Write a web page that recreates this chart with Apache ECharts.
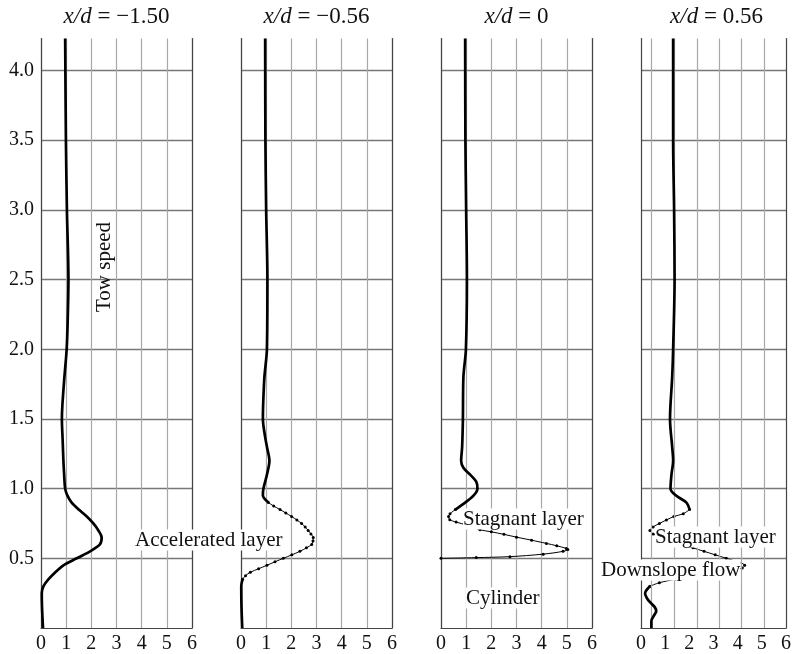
<!DOCTYPE html>
<html>
<head>
<meta charset="utf-8">
<script src="https://cdn.jsdelivr.net/npm/echarts@6/dist/echarts.min.js"></script>
<style>
  html, body { margin: 0; padding: 0; background: #fff; }
  #chart { width: 794px; height: 654px; }
</style>
</head>
<body>
<div id="chart"></div>
<script>
// panel titles (x/d values)
const panelTitles = ['\u22121.50', '\u22120.56', '0', '0.56'];

// velocity profiles, [u, z/d] pairs, top to bottom
const p1Solid = [[0.96,4.23],[0.99,3.5],[1.03,3.0],[1.09,2.5],[1.06,2.2],[1.02,2.0],[0.93,1.8],[0.85,1.6],[0.83,1.5],
  [0.86,1.35],[0.89,1.2],[0.92,1.1],[0.96,1.0],[1.05,0.95],[1.22,0.9],[1.5,0.85],[1.82,0.8],[2.08,0.75],[2.28,0.7],
  [2.41,0.65],[2.34,0.6],[1.95,0.55],[1.42,0.5],[0.89,0.45],[0.57,0.4],[0.3,0.35],[0.1,0.3],[0.03,0.25],[0.04,0.15],[0.08,0]];

const p2SolidTop = [[0.96,4.23],[0.97,3.5],[1.0,3.0],[1.05,2.5],[1.03,2.0],[0.93,1.8],[0.88,1.6],[0.87,1.5],[0.95,1.38],
  [1.03,1.3],[1.13,1.2],[1.03,1.1],[0.89,1.0],[0.87,0.95],[1.09,0.9]];
const p2Dotted = [[1.09,0.9],[1.3,0.875],[1.55,0.85],[1.78,0.825],[2.01,0.8],[2.22,0.775],[2.41,0.75],[2.55,0.725],
  [2.67,0.7],[2.78,0.675],[2.87,0.65],[2.86,0.625],[2.81,0.6],[2.6,0.575],[2.34,0.55],[2.02,0.525],[1.68,0.5],
  [1.35,0.475],[1.03,0.45],[0.7,0.425],[0.37,0.4],[0.18,0.375],[0.06,0.35]];
const p2SolidBottom = [[0.06,0.35],[0.01,0.3],[0.02,0.15],[0.05,0]];

const p3SolidTop = [[0.96,4.23],[0.97,3.5],[1.0,3.0],[1.03,2.5],[0.99,2.0],[0.89,1.8],[0.87,1.5],[0.84,1.3],[0.8,1.2],
  [0.89,1.15],[1.16,1.1],[1.4,1.05],[1.45,1.0],[1.29,0.95],[0.96,0.9],[0.57,0.85]];
const p3Dotted = [[0.57,0.85],[0.36,0.82],[0.3,0.8],[0.35,0.777],[0.6,0.76],[1.0,0.74],[1.55,0.705],[2.0,0.69],
  [2.5,0.672],[3.0,0.652],[3.6,0.63],[4.19,0.607],[4.6,0.59],[4.98,0.571],[5.04,0.564],[4.85,0.55],[4.06,0.53],
  [2.74,0.512],[1.4,0.505],[0,0.5]];

const p4SolidTop = [[1.33,4.23],[1.33,3.5],[1.37,3.0],[1.39,2.5],[1.33,2.0],[1.29,1.8],[1.2,1.5],[1.29,1.3],[1.33,1.2],
  [1.26,1.1],[1.22,1.0],[1.45,0.95],[1.88,0.9],[2.01,0.85]];
const p4Dotted = [[2.01,0.85],[1.75,0.82],[1.36,0.8],[1.05,0.775],[0.76,0.75],[0.5,0.725],[0.37,0.7],[0.5,0.675],
  [0.83,0.65],[1.25,0.625],[1.68,0.6],[2.15,0.575],[2.61,0.55],[3.07,0.525],[3.53,0.5],[3.99,0.475],[4.29,0.45],
  [4.19,0.43],[3.66,0.41],[3.0,0.4],[2.21,0.375],[1.42,0.35],[0.76,0.325],[0.37,0.3]];
const p4SolidBottom = [[0.37,0.3],[0.17,0.25],[0.3,0.2],[0.57,0.15],[0.63,0.12],[0.57,0.1],[0.43,0.05],[0.43,0]];

// the last panel's vertical grid sits off the tick marks in the source figure
const p4GridX = [0.43, 1.37, 2.31, 3.23, 4.16, 5.08];

const FONT = '"Liberation Serif", "DejaVu Serif", serif';
const lefts = [41, 241, 441, 641];
const panelW = 151;

const chart = echarts.init(document.getElementById('chart'));

function seg(i, data, dotted) {
  return {
    type: 'line',
    xAxisIndex: i,
    yAxisIndex: i,
    data: data,
    smooth: 0.3,
    showSymbol: dotted,
    symbol: 'circle',
    symbolSize: dotted ? 3 : 0,
    lineStyle: { color: '#000', width: dotted ? 1 : 2.7 },
    itemStyle: { color: '#000' },
    z: dotted ? 4 : 5,
    silent: true
  };
}

const series = [
  seg(0, p1Solid, false),
  seg(1, p2SolidTop, false), seg(1, p2Dotted, true), seg(1, p2SolidBottom, false),
  seg(2, p3SolidTop, false), seg(2, p3Dotted, true),
  seg(3, p4SolidTop, false), seg(3, p4Dotted, true), seg(3, p4SolidBottom, false),
  {
    type: 'line', xAxisIndex: 3, yAxisIndex: 3, data: [], z: 1, silent: true,
    markLine: {
      silent: true, symbol: 'none', label: { show: false }, animation: false,
      lineStyle: { color: '#a8a8a8', width: 1.2, type: 'solid' },
      data: p4GridX.map(x => ({ xAxis: x }))
    }
  }
];

const grid = lefts.map(l => ({ left: l, top: 38.5, width: panelW, height: 592 }));

const xAxis = lefts.map((l, i) => ({
  type: 'value', gridIndex: i, min: 0, max: 6, interval: 1,
  axisLine: { show: true, onZero: false, lineStyle: { color: '#444', width: 1.2 } },
  axisTick: { show: false },
  axisLabel: { fontFamily: FONT, fontSize: 20, color: '#111', margin: 6 },
  splitLine: { show: i !== 3, lineStyle: { color: '#a8a8a8', width: 1.2 } }
}));

const yAxis = lefts.map((l, i) => ({
  type: 'value', gridIndex: i, min: 0, max: 4.23, interval: 0.5,
  axisLine: { show: true, onZero: false, lineStyle: { color: '#444', width: 1.2 } },
  axisTick: { show: false },
  axisLabel: {
    show: i === 0, fontFamily: FONT, fontSize: 20, color: '#111', margin: 7,
    formatter: v => (v > 0 && Math.abs(v * 2 - Math.round(v * 2)) < 1e-6) ? v.toFixed(1) : ''
  },
  splitLine: { show: true, showMinLine: false, showMaxLine: false, lineStyle: { color: '#777', width: 1.3 } }
})).concat(lefts.map((l, i) => ({
  type: 'value', gridIndex: i, position: 'right', min: 0, max: 4.23,
  axisLine: { show: true, onZero: false, lineStyle: { color: '#444', width: 1.2 } },
  axisTick: { show: false }, axisLabel: { show: false }, splitLine: { show: false }
})));

const titles = panelTitles.map((t, i) => ({
  type: 'text', x: lefts[i] + panelW / 2, y: 17, z: 10,
  style: {
    text: '{i|x/d} = ' + t,
    fontFamily: FONT, fontSize: 23, fill: '#111',
    align: 'center', verticalAlign: 'middle',
    rich: { i: { fontStyle: 'italic', fontFamily: FONT, fontSize: 23, fill: '#111' } }
  }
}));

function note(text, x, y) {
  return {
    type: 'text', x: x, y: y, z: 10,
    style: {
      text: text, fontFamily: FONT, fontSize: 21, fill: '#111',
      align: 'left', verticalAlign: 'middle', backgroundColor: '#fff', padding: [0, 0]
    }
  };
}

const notes = [
  note('Accelerated layer', 135, 540),
  note('Stagnant layer', 463, 519),
  note('Cylinder', 466, 598),
  note('Stagnant layer', 655, 537),
  note('Downslope flow', 601, 570),
  {
    type: 'text', x: 104, y: 267, rotation: Math.PI / 2, z: 10,
    style: { text: 'Tow speed', fontFamily: FONT, fontSize: 21, fill: '#111', align: 'center', verticalAlign: 'middle' }
  }
];

chart.setOption({
  animation: false,
  backgroundColor: '#fff',
  grid: grid,
  xAxis: xAxis,
  yAxis: yAxis,
  series: series,
  graphic: titles.concat(notes)
});
</script>
</body>
</html>
